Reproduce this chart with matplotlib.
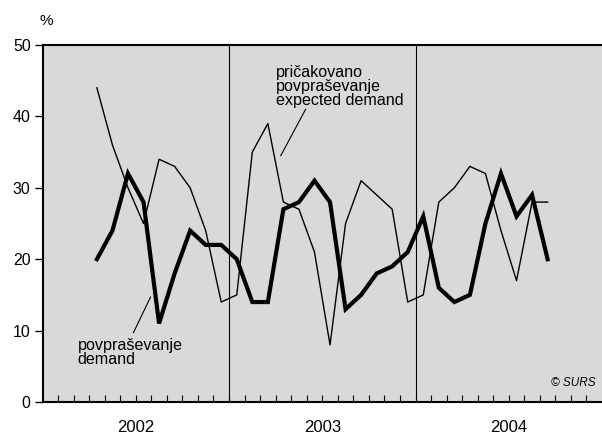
import numpy as np
import matplotlib.pyplot as plt

plt.rcParams['font.family'] = ['Liberation Sans', 'DejaVu Sans']

# mesečni podatki, april 2002 - september 2004
months = ['2002-04', '2002-05', '2002-06', '2002-07', '2002-08', '2002-09',
          '2002-10', '2002-11', '2002-12', '2003-01', '2003-02', '2003-03',
          '2003-04', '2003-05', '2003-06', '2003-07', '2003-08', '2003-09',
          '2003-10', '2003-11', '2003-12', '2004-01', '2004-02', '2004-03',
          '2004-04', '2004-05', '2004-06', '2004-07', '2004-08', '2004-09']
demand = [20, 24, 32, 28, 11, 18, 24, 22, 22, 20, 14, 14, 27, 28, 31,
          28, 13, 15, 18, 19, 21, 26, 16, 14, 15, 25, 32, 26, 29, 20]
expected = [44, 36, 30, 25, 34, 33, 30, 24, 14, 15, 35, 39, 28, 27, 21,
            8, 25, 31, 29, 27, 14, 15, 28, 30, 33, 32, 24, 17, 28, 28]
years = ['2002', '2003', '2004']
yticks = [0, 10, 20, 30, 40, 50]

# položaj meseca na osi (sredina meseca)
x = np.array([(int(m[:4]) - 2002) * 12 + int(m[5:]) - 1 + 0.5 for m in months])

fig = plt.figure(figsize=[6.02, 4.34], dpi=100)
ax = fig.add_axes([42.5 / 602, 1 - 402 / 434, 1 - 42.5 / 602, (402 - 45) / 434])
ax.set_facecolor('#d9d9d9')

ax.set_xlim(0, 36)
ax.set_ylim(0, 50)

for b in [12, 24]:
    ax.axvline(b, color='black', lw=0.8, zorder=1)

ax.plot(x, expected, color='black', lw=1.0, zorder=3)
ax.plot(x, demand, color='black', lw=3.0, solid_joinstyle='miter', zorder=4)

for s in ['left', 'bottom', 'top']:
    ax.spines[s].set_linewidth(1.5)
ax.spines['right'].set_visible(False)

ax.set_yticks(yticks)
ax.tick_params(axis='y', direction='out', length=5.5, width=1, pad=3, labelsize=11.5)
ax.set_xticks(np.arange(1, 36))
ax.set_xticklabels([])
ax.tick_params(axis='x', direction='in', length=5, width=0.8)

for i, yr in enumerate(years):
    ax.text(i * 12 + 6, -4.2, yr, ha='center', va='baseline', fontsize=12)

fig.text(46 / 602, 1 - 21 / 434, '%', ha='center', va='center', fontsize=11)

ax.text(15.0, 47.2, 'pričakovano\npovpraševanje\nexpected demand',
        ha='left', va='top', fontsize=11.6, linespacing=0.92)
ax.plot([15.33, 16.93], [34.5, 41.0], color='black', lw=0.8)

ax.text(2.25, 9.0, 'povpraševanje\ndemand', ha='left', va='top',
        fontsize=11.6, linespacing=0.92)
ax.plot([5.85, 6.95], [9.7, 14.7], color='black', lw=0.8)

ax.text(35.6, 2.7, '© SURS', ha='right', va='center', fontsize=8.5, style='italic')

plt.savefig('out.png', dpi=100)
